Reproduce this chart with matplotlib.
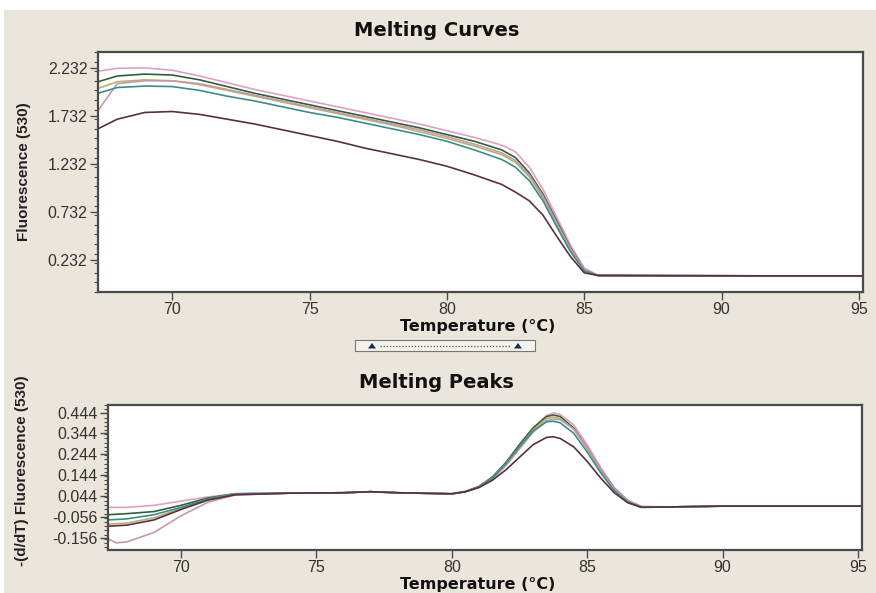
"""
Melting curves and melting peaks (530 channel) for six samples.
"""

import matplotlib
matplotlib.use("Agg")
import matplotlib.pyplot as plt
from matplotlib.patches import Rectangle, Polygon
from matplotlib.ticker import MultipleLocator, FixedLocator

W, H = 876, 593

# --- melting curves: fluorescence ---
temp_melt = [67.3, 68, 69, 70, 71, 72, 73, 74, 75, 76, 77, 78, 79, 80, 81,
             82, 82.5, 83, 83.5, 84, 84.5, 85, 85.5, 88, 92, 95.15]

melt_pink = [2.20, 2.23, 2.235, 2.21, 2.15, 2.08, 2.01, 1.95, 1.89, 1.83, 1.77,
             1.71, 1.65, 1.58, 1.51, 1.43, 1.36, 1.20, 0.97, 0.68, 0.39, 0.15,
             0.074, 0.07, 0.068, 0.068]
melt_green = [2.09, 2.15, 2.17, 2.16, 2.11, 2.04, 1.97, 1.91, 1.85, 1.79, 1.73,
              1.67, 1.61, 1.54, 1.47, 1.38, 1.30, 1.14, 0.92, 0.64, 0.36, 0.13,
              0.072, 0.07, 0.068, 0.068]
melt_olive = [2.02, 2.09, 2.11, 2.10, 2.06, 2.00, 1.94, 1.88, 1.82, 1.76, 1.70,
              1.64, 1.57, 1.50, 1.42, 1.33, 1.25, 1.10, 0.88, 0.61, 0.34, 0.12,
              0.072, 0.07, 0.068, 0.068]
melt_mauve = [1.79, 2.07, 2.10, 2.10, 2.07, 2.01, 1.95, 1.89, 1.83, 1.77, 1.71,
              1.65, 1.59, 1.52, 1.44, 1.35, 1.27, 1.12, 0.90, 0.62, 0.35, 0.13,
              0.072, 0.07, 0.068, 0.068]
melt_teal = [1.97, 2.03, 2.045, 2.04, 2.00, 1.94, 1.89, 1.83, 1.77, 1.72, 1.66,
             1.60, 1.54, 1.47, 1.38, 1.28, 1.20, 1.06, 0.85, 0.58, 0.32, 0.12,
             0.072, 0.07, 0.068, 0.068]
melt_brown = [1.60, 1.70, 1.77, 1.78, 1.75, 1.70, 1.65, 1.59, 1.53, 1.47, 1.40,
              1.34, 1.28, 1.21, 1.12, 1.02, 0.94, 0.85, 0.70, 0.48, 0.27, 0.10,
              0.072, 0.07, 0.068, 0.068]

# --- melting peaks: -(d/dT) fluorescence ---
temp_peak = [67.3, 67.6, 68, 69, 70, 71, 72, 74, 76, 77, 78, 80, 80.5, 81, 81.5,
             82, 82.5, 83, 83.5, 83.75, 84, 84.5, 85, 85.5, 86, 86.5, 87, 88,
             90, 95.15]

peak_pink = [-0.01, -0.01, -0.01, 0.0, 0.02, 0.04, 0.055, 0.058, 0.06, 0.065,
             0.06, 0.055, 0.066, 0.09, 0.135, 0.205, 0.29, 0.37, 0.43, 0.442,
             0.435, 0.385, 0.29, 0.18, 0.085, 0.025, -0.005, -0.008, -0.004, -0.004]
peak_green = [-0.045, -0.043, -0.04, -0.03, 0.0, 0.035, 0.055, 0.058, 0.06, 0.065,
              0.06, 0.055, 0.066, 0.09, 0.135, 0.205, 0.29, 0.37, 0.425, 0.432,
              0.425, 0.37, 0.275, 0.17, 0.08, 0.02, -0.008, -0.008, -0.004, -0.004]
peak_olive = [-0.09, -0.088, -0.085, -0.06, -0.015, 0.03, 0.055, 0.058, 0.06, 0.065,
              0.06, 0.055, 0.065, 0.088, 0.13, 0.20, 0.28, 0.36, 0.415, 0.422,
              0.415, 0.365, 0.27, 0.165, 0.075, 0.02, -0.008, -0.008, -0.004, -0.004]
peak_mauve = [-0.16, -0.18, -0.175, -0.13, -0.05, 0.015, 0.05, 0.058, 0.06, 0.065,
              0.06, 0.055, 0.065, 0.085, 0.125, 0.19, 0.27, 0.35, 0.405, 0.412,
              0.41, 0.365, 0.275, 0.17, 0.08, 0.02, -0.008, -0.008, -0.004, -0.004]
peak_teal = [-0.07, -0.068, -0.065, -0.045, -0.01, 0.03, 0.055, 0.058, 0.06, 0.065,
             0.06, 0.055, 0.065, 0.088, 0.13, 0.20, 0.28, 0.355, 0.40, 0.402,
             0.395, 0.345, 0.255, 0.155, 0.07, 0.015, -0.008, -0.008, -0.004, -0.004]
peak_brown = [-0.10, -0.098, -0.095, -0.07, -0.02, 0.025, 0.05, 0.058, 0.06, 0.065,
              0.06, 0.055, 0.065, 0.085, 0.12, 0.17, 0.23, 0.29, 0.325, 0.328,
              0.32, 0.28, 0.21, 0.13, 0.06, 0.012, -0.01, -0.008, -0.004, -0.004]

sample_colors = ["#e0a0c4", "#2f5f3c", "#b8b070", "#c49aa8", "#3c8c8c", "#5a3040"]
melt_series = [melt_pink, melt_green, melt_olive, melt_mauve, melt_teal, melt_brown]
peak_series = [peak_pink, peak_green, peak_olive, peak_mauve, peak_teal, peak_brown]

melt_yticks = [0.232, 0.732, 1.232, 1.732, 2.232]
peak_yticks = [-0.156, -0.056, 0.044, 0.144, 0.244, 0.344, 0.444]
xticks = [70, 75, 80, 85, 90, 95]

BG = "#ebe6dc"
FRAME = "#4a4a4a"
TICK_FONT = "Liberation Sans"


def px_box(left, top, right, bottom):
    """Convert a pixel box into a figure-fraction rect."""
    return [left / W, 1 - bottom / H, (right - left) / W, (bottom - top) / H]


def style_axes(ax, yticks, minor_step):
    ax.set_facecolor("white")
    for sp in ax.spines.values():
        sp.set_color(FRAME)
        sp.set_linewidth(1.6)
    ax.set_xticks(xticks)
    ax.yaxis.set_major_locator(FixedLocator(yticks))
    ax.yaxis.set_minor_locator(MultipleLocator(minor_step))
    ax.set_yticklabels([f"{t:.3f}" for t in yticks])
    ax.tick_params(axis="both", which="major", length=6, width=1.0, color=FRAME,
                   labelsize=11.5, labelcolor="#333333", pad=1.5)
    ax.tick_params(axis="y", which="minor", length=3, width=0.8, color=FRAME)
    for lab in ax.get_xticklabels() + ax.get_yticklabels():
        lab.set_fontfamily(TICK_FONT)


fig = plt.figure(figsize=(W / 100, H / 100), dpi=100)
fig.patch.set_facecolor("white")
fig.patches.append(Rectangle((4 / W, 0), 1 - 4 / W, 1 - 10 / H,
                             transform=fig.transFigure, facecolor=BG,
                             edgecolor="none", zorder=-10))

# upper panel
ax1 = fig.add_axes(px_box(98, 52, 863, 292))
for ys, c in zip(melt_series, sample_colors):
    ax1.plot(temp_melt, ys, color=c, lw=1.2)
ax1.set_xlim(67.3, 95.15)
ax1.set_ylim(-0.10, 2.40)
style_axes(ax1, melt_yticks, 0.1)
ax1.set_ylabel("Fluorescence (530)", fontfamily=TICK_FONT, fontweight="bold",
               fontsize=11, color="#222222")
ax1.yaxis.set_label_coords(-0.088, 0.5)

# lower panel
ax2 = fig.add_axes(px_box(108, 405, 862, 550))
for ys, c in zip(peak_series, sample_colors):
    ax2.plot(temp_peak, ys, color=c, lw=1.2)
ax2.set_xlim(67.3, 95.15)
ax2.set_ylim(-0.214, 0.48)
style_axes(ax2, peak_yticks, 0.02)
ax2.set_ylabel("-(d/dT) Fluorescence (530)", fontfamily=TICK_FONT,
               fontweight="bold", fontsize=11, color="#222222")
ax2.yaxis.set_label_coords(-0.105, 0.55)

# titles and axis labels
title_kw = dict(ha="center", va="center", fontweight="bold", color="#111111",
                fontfamily="DejaVu Sans")
fig.text(437 / W, 1 - 30 / H, "Melting Curves", fontsize=14, **title_kw)
fig.text(436 / W, 1 - 382 / H, "Melting Peaks", fontsize=14, **title_kw)
fig.text(478 / W, 1 - 327 / H, "Temperature (\u00b0C)", fontsize=11.5, **title_kw)
fig.text(478 / W, 1 - 585 / H, "Temperature (\u00b0C)", fontsize=11.5, **title_kw)

# range slider between the panels
fig.patches.append(Rectangle((355 / W, 1 - 351 / H), 180 / W, 11 / H,
                             transform=fig.transFigure, facecolor="#f4f2ec",
                             edgecolor="#777777", lw=0.8))
fig.lines.append(plt.Line2D([380 / W, 510 / W], [1 - 346 / H, 1 - 346 / H],
                            transform=fig.transFigure, color="#555555",
                            lw=0.9, ls=(0, (1, 1.5))))
for cx in (372, 518):
    fig.patches.append(Polygon([((cx - 4) / W, 1 - 348.5 / H),
                                ((cx + 4) / W, 1 - 348.5 / H),
                                (cx / W, 1 - 343 / H)],
                               closed=True, transform=fig.transFigure,
                               facecolor="#1e2a55", edgecolor="none"))

fig.savefig("out.png", dpi=100, facecolor=fig.get_facecolor())
